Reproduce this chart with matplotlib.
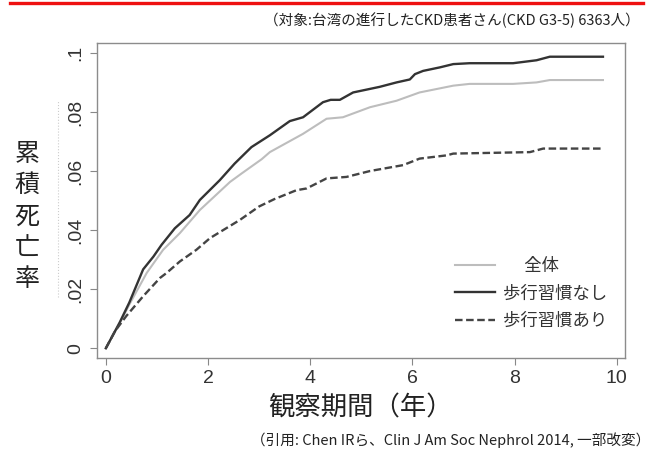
import matplotlib
matplotlib.use("Agg")
import matplotlib.pyplot as plt
from matplotlib.lines import Line2D

plt.rcParams['font.family'] = ['Liberation Sans', 'Noto Sans CJK JP', 'DejaVu Sans']
JP = ['Noto Sans CJK JP', 'DejaVu Sans']

# 観察期間(年) と 累積死亡率
t_nashi = [0, 0.27, 0.46, 0.73, 0.93, 1.09, 1.35, 1.64, 1.84, 2.23, 2.52, 2.85, 3.21,
           3.60, 3.86, 4.25, 4.40, 4.58, 4.84, 5.36, 5.69, 5.95, 6.05, 6.21, 6.54,
           6.80, 7.12, 7.97, 8.43, 8.69, 9.73]
y_nashi = [0, 0.0087, 0.0155, 0.0267, 0.0310, 0.0350, 0.0406, 0.0451, 0.0502, 0.0569,
           0.0625, 0.0681, 0.0721, 0.0769, 0.0782, 0.0833, 0.0841, 0.0841, 0.0866,
           0.0885, 0.0900, 0.0910, 0.0928, 0.0939, 0.0951, 0.0962, 0.0965, 0.0965,
           0.0975, 0.0987, 0.0987]

t_all = [0, 0.27, 0.46, 0.80, 1.12, 1.45, 1.84, 2.43, 2.66, 3.05, 3.21, 3.86, 4.32, 4.64,
         5.17, 5.69, 6.14, 6.80, 7.12, 7.97, 8.43, 8.69, 9.73]
y_all = [0, 0.0084, 0.0148, 0.0255, 0.0333, 0.0390, 0.0468, 0.0563, 0.0592, 0.0640, 0.0664,
         0.0726, 0.0777, 0.0782, 0.0816, 0.0838, 0.0866, 0.0889, 0.0895, 0.0895,
         0.0900, 0.0908, 0.0908]

t_ari = [0, 0.18, 0.40, 0.73, 1.06, 1.19, 1.45, 1.77, 2.04, 2.62, 3.00, 3.30, 3.73, 3.93,
         4.32, 4.71, 5.17, 5.82, 6.14, 6.67, 6.80, 8.30, 8.56, 9.73]
y_ari = [0, 0.0058, 0.0109, 0.0176, 0.0238, 0.0255, 0.0294, 0.0333, 0.0373, 0.0434, 0.0480,
         0.0505, 0.0535, 0.0541, 0.0575, 0.0580, 0.0600, 0.0620, 0.0642, 0.0653,
         0.0659, 0.0664, 0.0676, 0.0676]

xticks = [0, 2, 4, 6, 8, 10]
yticks = [0, 0.02, 0.04, 0.06, 0.08, 0.1]
ytick_labels = ['0', '.02', '.04', '.06', '.08', '.1']

fig = plt.figure(figsize=(6.62, 4.54), dpi=100)
ax = fig.add_axes([0.146, 0.2115, 0.798, 0.6935])

l_all, = ax.plot(t_all, y_all, color='#bdbdbd', lw=1.5)
l_nashi, = ax.plot(t_nashi, y_nashi, color='#333333', lw=1.7)
l_ari, = ax.plot(t_ari, y_ari, color='#444444', lw=1.7, dashes=(3.2, 1.5))

ax.set_xlim(-0.18, 10.16)
ax.set_ylim(-0.0033, 0.1033)
ax.set_xticks(xticks)
ax.set_yticks(yticks)
ax.set_yticklabels(ytick_labels, rotation=90, va='center')
ax.tick_params(direction='out', length=5, width=0.8, color='#888888',
               labelsize=14, labelcolor='#333333', pad=4)
for s in ax.spines.values():
    s.set_color('#8c8c8c')
    s.set_linewidth(1.0)

leg = ax.legend([l_all, l_nashi, l_ari], ['\u3000 全体', '歩行習慣なし', '歩行習慣あり'],
                loc='upper left', bbox_to_anchor=(0.678, 0.321), frameon=False,
                prop={'family': JP, 'size': 12.5}, handlelength=2.3,
                handletextpad=0.5, labelspacing=0.55, borderpad=0, borderaxespad=0)
for txt in leg.get_texts():
    txt.set_color('#333333')

fig.text(0.041, 0.523, '\n'.join('累積死亡率'), family=JP, fontsize=18,
         ha='center', va='center', linespacing=1.27, color='#222222')
fig.text(0.545, 0.101, '観察期間（年）', family=JP, fontsize=19,
         ha='center', va='center', color='#222222')
fig.text(0.967, 0.956, '（対象:台湾の進行したCKD患者さん(CKD G3-5) 6363人）', family=JP,
         fontsize=10.5, ha='right', va='center', color='#222222')
fig.text(0.982, 0.031, '（引用: Chen IRら、Clin J Am Soc Nephrol 2014, 一部改変）', family=JP,
         fontsize=10.5, ha='right', va='center', color='#222222')

fig.add_artist(Line2D([0.015, 0.971], [0.993, 0.993], color='#ee1111', lw=2.4))
fig.add_artist(Line2D([0.0876, 0.0876], [0.346, 0.78], color='#cccccc', lw=0.8, ls=':'))

fig.savefig('out.png', dpi=100)
